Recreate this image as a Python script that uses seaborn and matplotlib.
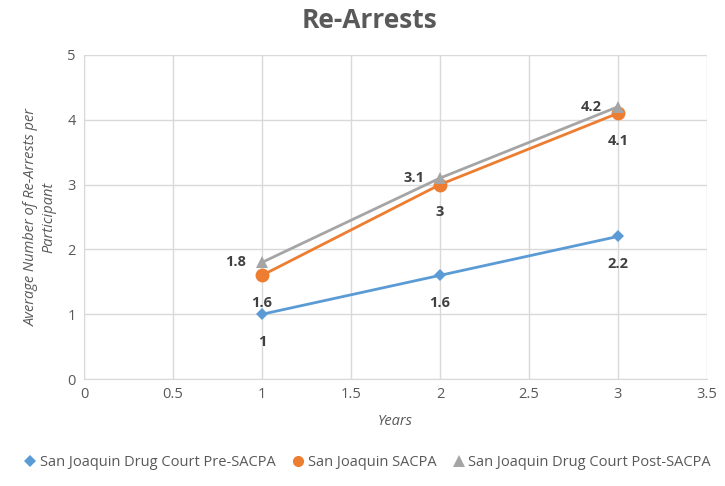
import matplotlib
matplotlib.use("Agg")
import matplotlib.pyplot as plt
import seaborn as sns
import pandas as pd

years = [1, 2, 3]
pre_sacpa = [1.0, 1.6, 2.2]
sacpa = [1.6, 3.0, 4.1]
post_sacpa = [1.8, 3.1, 4.2]
series_names = ["San Joaquin Drug Court Pre-SACPA", "San Joaquin SACPA",
                "San Joaquin Drug Court Post-SACPA"]
x_ticks = [0, 0.5, 1, 1.5, 2, 2.5, 3, 3.5]
y_ticks = [0, 1, 2, 3, 4, 5]

sns.set_style("white")
plt.rcParams["font.family"] = ["Open Sans", "DejaVu Sans"]

df = pd.DataFrame({
    "Years": years * 3,
    "value": pre_sacpa + sacpa + post_sacpa,
    "series": [series_names[0]] * 3 + [series_names[1]] * 3 + [series_names[2]] * 3,
})

colors = ["#5B9BD5", "#ED7D31", "#A5A5A5"]
markers = ["D", "o", "^"]
msizes = [6, 10, 9]
legend_msizes = [6.5, 8, 8.5]

fig = plt.figure(figsize=(7.25, 4.86), dpi=100)
ax = fig.add_axes([0.116, 0.220, 0.859, 0.667])

for name, c, m, ms in zip(series_names, colors, markers, msizes):
    sub = df[df["series"] == name]
    sns.lineplot(data=sub, x="Years", y="value", ax=ax, color=c, marker=m,
                 markersize=ms, markeredgewidth=0, linewidth=2, label=name)

label_color = "#404040"
for x, v in zip(years, pre_sacpa):
    ax.annotate(f"{v:g}", (x, v), xytext=(0, -20), textcoords="offset points",
                ha="center", va="center", fontsize=10.5, fontweight="bold", color=label_color)
for x, v in zip(years, sacpa):
    ax.annotate(f"{v:g}", (x, v), xytext=(0, -20), textcoords="offset points",
                ha="center", va="center", fontsize=10.5, fontweight="bold", color=label_color)
for x, v in zip(years, post_sacpa):
    ax.annotate(f"{v:g}", (x, v), xytext=(-19, 0), textcoords="offset points",
                ha="center", va="center", fontsize=10.5, fontweight="bold", color=label_color)

ax.set_xlim(0, 3.5)
ax.set_ylim(0, 5)
ax.set_xticks(x_ticks)
ax.set_xticklabels([f"{t:g}" for t in x_ticks])
ax.set_yticks(y_ticks)
ax.grid(True, color="#D9D9D9", linewidth=1)
ax.set_axisbelow(True)
for s in ["top", "right"]:
    ax.spines[s].set_visible(False)
ax.spines["left"].set_color("#D9D9D9")
ax.spines["bottom"].set_color("#D9D9D9")
ax.tick_params(axis="both", colors="#595959", labelsize=10.5, length=0, pad=6)

ax.set_xlabel("Years", fontsize=10.5, style="italic", color="#595959", labelpad=8)
ax.set_ylabel("Average Number of Re-Arrests per\nParticipant", fontsize=10.5,
              style="italic", color="#595959", labelpad=8)
fig.suptitle("Re-Arrests", x=0.51, y=0.985, fontsize=19, fontweight="bold", color="#595959")

leg = ax.legend(loc="upper center", bbox_to_anchor=(0.455, -0.195), ncol=3, frameon=False,
                fontsize=10.5, handlelength=0.9, handletextpad=0.2, columnspacing=1.1,
                labelcolor="#595959")
for line, ms in zip(leg.get_lines(), legend_msizes):
    line.set_linewidth(0)
    line.set_markersize(ms)

fig.savefig("out.png", dpi=100, facecolor="white")
